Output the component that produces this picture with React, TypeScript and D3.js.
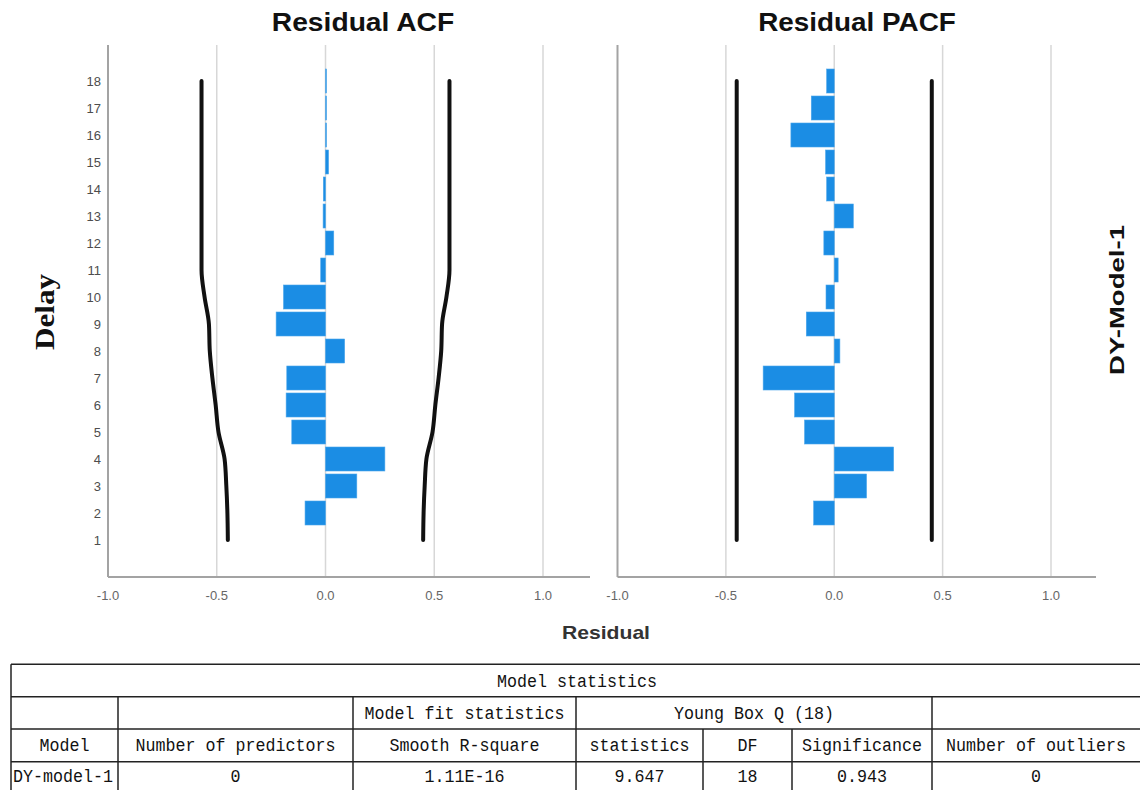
import React from "react";
import * as d3 from "d3";

// ---------------- data ----------------
const lags = [1, 2, 3, 4, 5, 6, 7, 8, 9, 10, 11, 12, 13, 14, 15, 16, 17, 18];
const acfValues = [0.0, -0.094, 0.144, 0.273, -0.155, -0.181, -0.178, 0.088, -0.227, -0.193, -0.022, 0.038, -0.011, -0.010, 0.014, 0.004, 0.004, 0.004];
const acfUpperLimit = [0.449, 0.451, 0.456, 0.464, 0.492, 0.505, 0.520, 0.532, 0.536, 0.556, 0.570, 0.570, 0.570, 0.570, 0.570, 0.570, 0.570, 0.570];
const pacfValues = [0.0, -0.095, 0.149, 0.274, -0.137, -0.183, -0.328, 0.026, -0.129, -0.038, 0.018, -0.048, 0.088, -0.035, -0.040, -0.200, -0.106, -0.035];
const pacfUpperLimit = [0.45, 0.45, 0.45, 0.45, 0.45, 0.45, 0.45, 0.45, 0.45, 0.45, 0.45, 0.45, 0.45, 0.45, 0.45, 0.45, 0.45, 0.45];
const xTicks = [-1.0, -0.5, 0.0, 0.5, 1.0];
const xTickLabels = ["-1.0", "-0.5", "0.0", "0.5", "1.0"];

const tableTitle = "Model statistics";
const groupHeaders = ["", "", "Model fit statistics", "Young Box Q (18)", ""];
const columnHeaders = ["Model", "Number of predictors", "Smooth R-square", "statistics", "DF", "Significance", "Number of outliers"];
const rowValues = ["DY-model-1", "0", "1.11E-16", "9.647", "18", "0.943", "0"];

// ---------------- layout ----------------
const W = 1140;
const H = 790;
const plotTop = 45;
const plotBottom = 577;
const BAR_COLOR = "#1b8de4";

const yScale = d3.scaleLinear().domain([1, 18]).range([540, 81]);

const panels = [
  { title: "Residual ACF", titleX: 363, values: acfValues, limits: acfUpperLimit, x0: 108, x1: 543, end: 590, yLabels: true, curve: d3.curveMonotoneY },
  { title: "Residual PACF", titleX: 857, values: pacfValues, limits: pacfUpperLimit, x0: 617.5, x1: 1051, end: 1096, yLabels: false, curve: d3.curveLinear },
];

const colEdges = [11, 118, 353, 576, 703, 792, 932, 1140];
const rowEdges = [664.3, 696.7, 729, 761.7, 794];
const groupSpans = [[0, 1], [1, 2], [2, 3], [3, 6], [6, 7]];

const tableFont = "'Liberation Mono', 'DejaVu Sans Mono', monospace";
const charW = 10;

function TText({ x, y, text, anchor = "middle" }: { x: number; y: number; text: string; anchor?: string }) {
  if (!text) return null;
  return (
    <text x={x} y={y} textAnchor={anchor as any} fontFamily={tableFont} fontSize={17.5} fill="#111"
      textLength={text.length * charW} lengthAdjust="spacingAndGlyphs">{text}</text>
  );
}

function Panel({ p }: { p: any }) {
  const x = d3.scaleLinear().domain([-1, 1]).range([p.x0, p.x1]);
  const bandH = 24;
  const lineUpper = d3.line<number>().x((v) => x(v)).y((_, i) => yScale(lags[i])).curve(p.curve);
  const lineLower = d3.line<number>().x((v) => x(-v)).y((_, i) => yScale(lags[i])).curve(p.curve);
  return (
    <g>
      {xTicks.filter((t) => t > -1).map((t) => (
        <line key={"g" + t} x1={x(t)} x2={x(t)} y1={plotTop} y2={plotBottom} stroke="#d7d7d7" strokeWidth={1.5} />
      ))}
      <line x1={x(-1)} x2={x(-1)} y1={plotTop} y2={plotBottom} stroke="#a3a3a3" strokeWidth={2} />
      <line x1={x(-1)} x2={p.end} y1={plotBottom} y2={plotBottom} stroke="#a3a3a3" strokeWidth={2} />
      {xTicks.map((t, i) => (
        <text key={"t" + t} x={x(t)} y={600} textAnchor="middle" fontFamily="'Liberation Sans', Arial, sans-serif"
          fontSize={13} fill="#666">{xTickLabels[i]}</text>
      ))}
      {p.yLabels && lags.map((l) => (
        <text key={"y" + l} x={101} y={yScale(l) + 4.5} textAnchor="end" fontFamily="'Liberation Sans', Arial, sans-serif"
          fontSize={13} fill="#4d4d4d">{l}</text>
      ))}
      {p.values.map((v: number, i: number) => {
        if (v === 0) return null;
        const xa = x(Math.min(0, v));
        const w = Math.max(Math.abs(x(v) - x(0)), 1);
        return (
          <rect key={"b" + i} x={xa} y={yScale(lags[i]) - bandH / 2} width={w} height={bandH}
            fill={BAR_COLOR} stroke="#4aa6ec" strokeWidth={0.6} />
        );
      })}
      <path d={lineUpper(p.limits) || ""} fill="none" stroke="#111" strokeWidth={4} strokeLinecap="round" />
      <path d={lineLower(p.limits) || ""} fill="none" stroke="#111" strokeWidth={4} strokeLinecap="round" />
      <text x={p.titleX} y={31} textAnchor="middle" fontFamily="'Liberation Sans', Arial, sans-serif" fontWeight="bold"
        fontSize={25} fill="#111" textLength={p.title.length * 15.2} lengthAdjust="spacingAndGlyphs">{p.title}</text>
    </g>
  );
}

export default function App() {
  return (
    <svg width={W} height={H} style={{ position: "absolute", left: 0, top: 0, background: "#fff" }}>
      <rect x={0} y={0} width={W} height={H} fill="#fff" />
      {panels.map((p) => <Panel key={p.title} p={p} />)}

      <text transform="translate(54,312) rotate(-90)" textAnchor="middle" fontFamily="'Liberation Serif', 'Times New Roman', serif"
        fontWeight="bold" fontSize={27} fill="#111" textLength={76} lengthAdjust="spacingAndGlyphs">Delay</text>
      <text transform="translate(1124,300) rotate(-90)" textAnchor="middle" fontFamily="'Liberation Sans', Arial, sans-serif"
        fontWeight="bold" fontSize={21} fill="#111" textLength={150} lengthAdjust="spacingAndGlyphs">DY-Model-1</text>
      <text x={606} y={639} textAnchor="middle" fontFamily="'Liberation Sans', Arial, sans-serif" fontWeight="bold"
        fontSize={19} fill="#333" textLength={88} lengthAdjust="spacingAndGlyphs">Residual</text>

      <g>
        {rowEdges.slice(0, 4).map((y, i) => (
          <line key={"h" + i} x1={colEdges[0]} x2={W} y1={y} y2={y} stroke="#222" strokeWidth={1.5} />
        ))}
        <line x1={colEdges[0]} x2={colEdges[0]} y1={rowEdges[0]} y2={H} stroke="#222" strokeWidth={1.5} />
        {groupSpans.slice(1).map((s, i) => (
          <line key={"v2" + i} x1={colEdges[s[0]]} x2={colEdges[s[0]]} y1={rowEdges[1]} y2={rowEdges[2]} stroke="#222" strokeWidth={1.5} />
        ))}
        {colEdges.slice(1, colEdges.length - 1).map((x, i) => (
          <line key={"v3" + i} x1={x} x2={x} y1={rowEdges[2]} y2={H} stroke="#222" strokeWidth={1.5} />
        ))}
        <TText x={577} y={(rowEdges[0] + rowEdges[1]) / 2 + 6} text={tableTitle} />
        {groupHeaders.map((t, i) => (
          <TText key={"gh" + i} x={(colEdges[groupSpans[i][0]] + colEdges[groupSpans[i][1]]) / 2} y={(rowEdges[1] + rowEdges[2]) / 2 + 6} text={t} />
        ))}
        {columnHeaders.map((t, i) => (
          <TText key={"ch" + i} x={(colEdges[i] + colEdges[i + 1]) / 2} y={(rowEdges[2] + rowEdges[3]) / 2 + 6} text={t} />
        ))}
        {rowValues.map((t, i) => (
          i === 0
            ? <TText key={"rv" + i} x={colEdges[0] + 2} y={(rowEdges[3] + rowEdges[4]) / 2 + 4} text={t} anchor="start" />
            : <TText key={"rv" + i} x={(colEdges[i] + colEdges[i + 1]) / 2} y={(rowEdges[3] + rowEdges[4]) / 2 + 4} text={t} />
        ))}
      </g>
    </svg>
  );
}
